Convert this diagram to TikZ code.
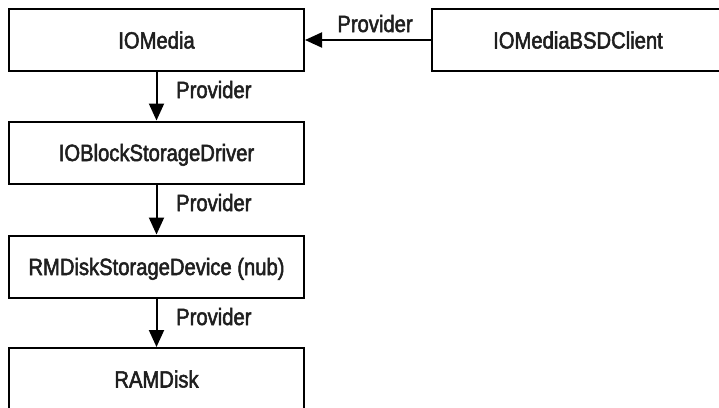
\documentclass[tikz,border=0pt]{standalone}
\usepackage{fontspec}
\setmainfont{Liberation Sans}[FakeStretch=0.86,FakeBold=2.2]
\usetikzlibrary{arrows.meta}
\begin{document}
\begin{tikzpicture}[x=1pt,y=-1pt,
  box/.style={draw=black,line width=2pt,minimum width=295pt,minimum height=62pt,inner sep=0pt,text height=17pt,text depth=0pt,font=\fontsize{23.5}{26}\selectfont,text=black!88},
  lbl/.style={font=\fontsize{23.5}{26}\selectfont,text=black!88,inner sep=0pt},
  arr/.style={line width=2pt,-{Triangle[length=17pt,width=15pt]}}]
\useasboundingbox (0,0) rectangle (719,407);
\clip (0,0) rectangle (719,407);
\node[box] (media) at (156.5,40) {IOMedia};
\node[box,minimum width=292pt] (client) at (578,40) {IOMediaBSDClient};
\node[box] (driver) at (156.5,152.5) {IOBlockStorageDriver};
\node[box] (rmdisk) at (156.5,266.5) {RMDiskStorageDevice (nub)};
\node[box] (ramdisk) at (156.5,379) {RAMDisk};
\draw[arr] (client.west) -- (media.east);
\node[lbl,anchor=base] (p0) at (375,32) {Provider};
\draw[arr] (media.south) -- (driver.north);
\node[lbl,anchor=base west] (p1) at (176,98) {Provider};
\draw[arr] (driver.south) -- (rmdisk.north);
\node[lbl,anchor=base west] (p2) at (176,211) {Provider};
\draw[arr] (rmdisk.south) -- (ramdisk.north);
\node[lbl,anchor=base west] (p3) at (176,325) {Provider};
\end{tikzpicture}
\end{document}
